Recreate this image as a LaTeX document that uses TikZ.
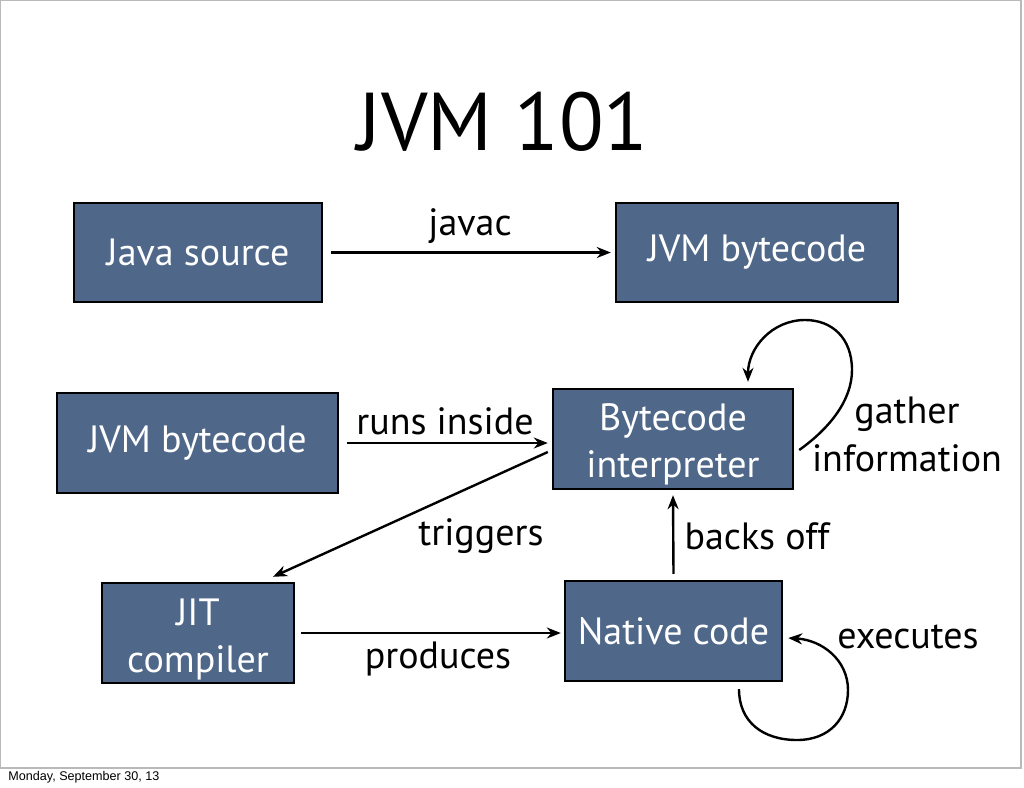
\documentclass[tikz,border=0pt]{standalone}
\usepackage{fontspec}
\setmainfont{PT Sans}
\newfontfamily\footfont{Liberation Sans}
\usetikzlibrary{arrows.meta}
\definecolor{boxblue}{RGB}{79,103,136}
\begin{document}
\begin{tikzpicture}[x=0.5pt,y=-0.5pt,
  box/.style={draw=black, line width=1.2pt, fill=boxblue, text=white,
    font=\fontsize{19}{23}\selectfont, align=center, inner sep=0pt},
  boxtext/.style={text=white, font=\fontsize{19}{23.5}\selectfont, align=center, inner sep=0pt},
  arr/.style={line width=1.2pt, -{Stealth[length=7pt,width=5.5pt]}},
  lbl/.style={font=\fontsize{19}{24}\selectfont, align=center, inner sep=0pt}]
\useasboundingbox (0,0) rectangle (1024,788);
\draw[gray!55, line width=0.8pt] (0.5,0.5) rectangle (1021,768);
% title
\node[font=\fontsize{41}{46}\selectfont] (title) at (503,122) {JVM 101};
% boxes
\node[box, minimum width=124pt, minimum height=49.5pt] (js) at (198,252.5) {Java source};
\node[box, minimum width=141pt, minimum height=49.5pt] (jb) at (757,252.5) {JVM bytecode};
\node[box, minimum width=140.5pt, minimum height=50pt] (jb2) at (197.5,443) {JVM bytecode};
\node[box, minimum width=120pt, minimum height=50pt] (interp) at (673,439) {};
\node[boxtext] (interpt) at ([yshift=-2.5pt]interp.center) {Bytecode\\interpreter};
\node[box, minimum width=96pt, minimum height=50pt] (jit) at (198,633) {};
\node[boxtext] (jitt) at ([yshift=-3pt]jit.center) {JIT\\compiler};
\node[box, minimum width=108.5pt, minimum height=50pt] (native) at (673.5,631) {Native code};
% connectors
\draw[arr] ([xshift=4pt]js.east) -- ([xshift=-2pt]js.east -| jb.west);
\draw[arr] ([xshift=4pt]jb2.east) -- ([xshift=-2pt]jb2.east -| interp.west);
\draw[arr] ([shift={(-2pt,-6.5pt)}]interp.west) -- ([shift={(37.5pt,2.5pt)}]jit.north);
\draw[arr] ([xshift=3pt]jit.east) -- ([xshift=-1.5pt]jit.east -| native.west);
\draw[arr] ([yshift=3pt]native.north) -- ([yshift=-2.5pt]interp.south);
\draw[arr] ([shift={(2.5pt,-5.5pt)}]interp.east) .. controls (830,428) and (852,400) .. (852,370)
  .. controls (852,338) and (832,320) .. (805,320)
  .. controls (772,320) and (748,348) .. ([shift={(37.5pt,3pt)}]interp.north);
\draw[arr] ([shift={(32.75pt,-3.5pt)}]native.south) .. controls (739,722) and (763,740) .. (797,740)
  .. controls (830,740) and (848,718) .. (848,690)
  .. controls (848,660) and (822,640) .. ([shift={(2.5pt,-3.5pt)}]native.east);
% labels
\node[lbl] (ljavac) at (470,226) {javac};
\node[lbl] (lruns) at (445,421) {runs inside};
\node[lbl] (ltrig) at (481,536) {triggers};
\node[lbl] (lprod) at (438,659) {produces};
\node[lbl] (lback) at (757,536) {backs off};
\node[lbl] (lgath) at (907,434) {gather\\information};
\node[lbl] (lexec) at (908,637) {executes};
% footer
\node[font=\footfont\fontsize{6.3}{7}\selectfont, anchor=west, inner sep=0pt] (foot) at (8,777) {Monday, September 30, 13};
\end{tikzpicture}
\end{document}
